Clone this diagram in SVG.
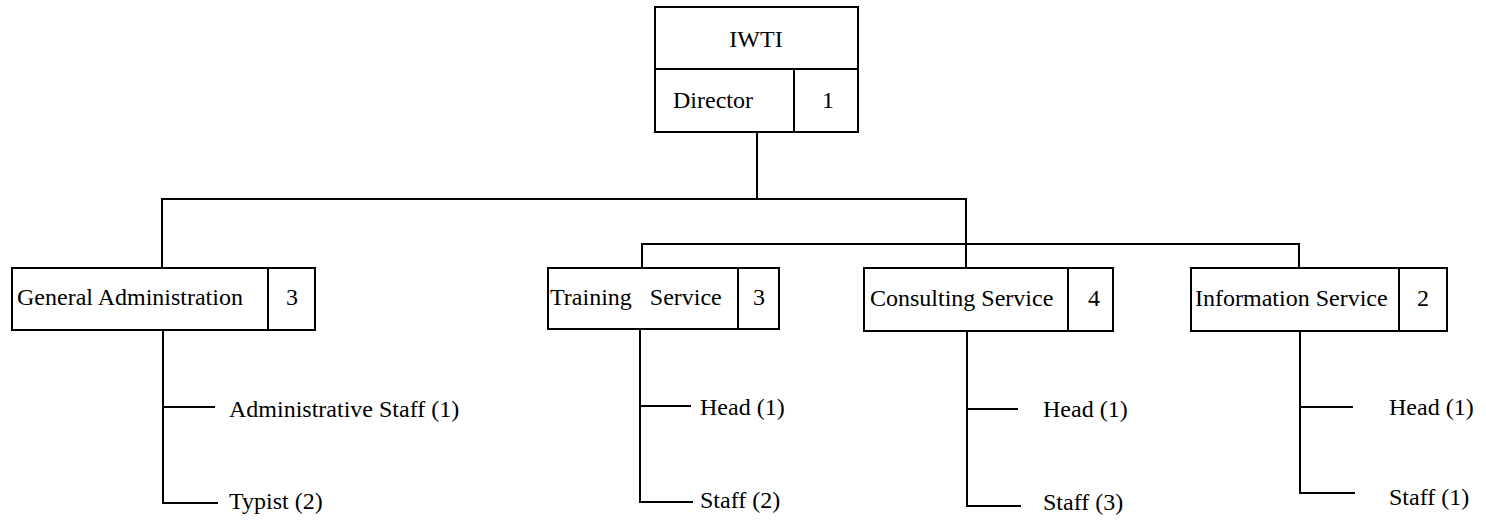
<svg xmlns="http://www.w3.org/2000/svg" width="1486" height="522" viewBox="0 0 1486 522" font-family="'Liberation Serif', 'DejaVu Serif', serif" font-size="24">
<style>
.box{fill:none;stroke:#000;stroke-width:2}
.ln{fill:none;stroke:#000;stroke-width:2}
text{font-family:'Liberation Serif', 'DejaVu Serif', serif;font-size:24px;fill:#000}
.c{text-anchor:middle}
</style>
<rect width="1486" height="522" fill="#fff"/>
<g id="connectors">
<path class="ln" d="M757 132V199M162 268V199H966V268M642 268V244H1299V268"/>
<path class="ln" d="M163 330V503H218M163 407H215"/>
<path class="ln" d="M640 329V502H693M640 406H691"/>
<path class="ln" d="M967 331V506H1021M967 409H1018"/>
<path class="ln" d="M1300 331V493H1355M1300 407H1353"/>
</g>
<g id="iwti">
<rect class="box" x="655" y="7" width="203" height="125"/>
<path class="ln" d="M655 69H858M794 69V132"/>
<text class="c" x="756" y="47">IWTI</text>
<text x="673" y="108">Director</text>
<text class="c" x="828" y="108">1</text>
</g>
<g id="general-administration">
<rect class="box" x="12" y="268" width="303" height="62"/>
<path class="ln" d="M268 268V330"/>
<text x="17" y="305">General Administration</text>
<text class="c" x="292" y="305">3</text>
</g>
<g id="training-service">
<rect class="box" x="548" y="268" width="231" height="61"/>
<path class="ln" d="M738 268V329"/>
<text x="550" y="305" xml:space="preserve">Training   Service</text>
<text class="c" x="759" y="305">3</text>
</g>
<g id="consulting-service">
<rect class="box" x="864" y="268" width="249" height="63"/>
<path class="ln" d="M1068 268V331"/>
<text x="870" y="306">Consulting Service</text>
<text class="c" x="1094" y="306">4</text>
</g>
<g id="information-service">
<rect class="box" x="1191" y="268" width="256" height="63"/>
<path class="ln" d="M1399 268V331"/>
<text x="1195" y="306">Information Service</text>
<text class="c" x="1423" y="306">2</text>
</g>
<g id="ga-staff"><text x="229" y="417">Administrative Staff (1)</text></g>
<g id="ga-typist"><text x="229" y="509">Typist (2)</text></g>
<g id="ts-head"><text x="700" y="415">Head (1)</text></g>
<g id="ts-staff"><text x="700" y="508">Staff (2)</text></g>
<g id="cs-head"><text x="1043" y="417">Head (1)</text></g>
<g id="cs-staff"><text x="1043" y="510">Staff (3)</text></g>
<g id="is-head"><text x="1389" y="415">Head (1)</text></g>
<g id="is-staff"><text x="1389" y="505">Staff (1)</text></g>
</svg>
